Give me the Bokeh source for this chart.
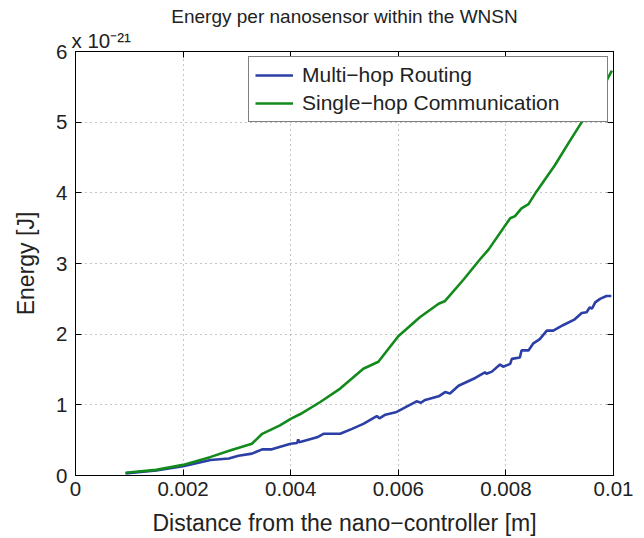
from bokeh.plotting import figure
from bokeh.models import (LinearAxis, FixedTicker, Legend, LegendItem, Title,
                          CustomJSTickFormatter, Range1d)
from bokeh.embed import file_html
from bokeh.resources import INLINE

# Distance from the nano-controller [m] and energy [x 1e-21 J]
multi_hop_x = [0.00093, 0.0015, 0.002, 0.00251, 0.00285, 0.00303, 0.00328, 0.00347,
               0.00365, 0.00387, 0.0040, 0.00412, 0.00414, 0.00416, 0.00449, 0.00461,
               0.00492, 0.00514, 0.00535, 0.0056, 0.00565, 0.00576, 0.00597, 0.00634,
               0.00642, 0.0065, 0.00675, 0.00687, 0.00696, 0.00712, 0.00743, 0.00761,
               0.00764, 0.00774, 0.00789, 0.00795, 0.00808, 0.00811, 0.00826, 0.00829,
               0.00842, 0.00851, 0.00863, 0.00876, 0.00888, 0.00907, 0.00928, 0.00941,
               0.0095, 0.00956, 0.0096, 0.00966, 0.00975, 0.00987, 0.00996]
multi_hop_y = [0.03, 0.07, 0.13, 0.22, 0.24, 0.28, 0.31, 0.37, 0.37, 0.42,
               0.45, 0.46, 0.51, 0.47, 0.54, 0.59, 0.59, 0.66, 0.73, 0.84,
               0.81, 0.86, 0.90, 1.05, 1.03, 1.07, 1.12, 1.18, 1.16, 1.27,
               1.38, 1.46, 1.44, 1.47, 1.57, 1.54, 1.58, 1.65, 1.67, 1.77,
               1.77, 1.87, 1.93, 2.05, 2.05, 2.13, 2.21, 2.30, 2.31, 2.38,
               2.36, 2.45, 2.50, 2.54, 2.54]

single_hop_x = [0.00093, 0.0015, 0.002, 0.0025, 0.0029, 0.00328, 0.00347, 0.0038,
                0.0040, 0.00418, 0.00455, 0.00492, 0.00535, 0.00563, 0.0060, 0.0064,
                0.00675, 0.00687, 0.00721, 0.00752, 0.00768, 0.00808, 0.00817, 0.00829,
                0.00842, 0.00857, 0.00891, 0.00916, 0.00941, 0.0097, 0.0099, 0.00997]
single_hop_y = [0.04, 0.08, 0.15, 0.26, 0.36, 0.45, 0.59, 0.71,
                0.80, 0.87, 1.04, 1.23, 1.51, 1.61, 1.97, 2.24,
                2.43, 2.47, 2.77, 3.06, 3.2, 3.64, 3.67, 3.78,
                3.84, 4.02, 4.39, 4.70, 5.0, 5.33, 5.63, 5.73]

x_ticks = [0, 0.002, 0.004, 0.006, 0.008, 0.01]
x_tick_labels = ["0", "0.002", "0.004", "0.006", "0.008", "0.01"]
y_ticks = [0, 1, 2, 3, 4, 5, 6]

FONT = "Liberation Sans"
TEXT = "#222222"
BLUE = "#2b3fa6"
GREEN = "#128a1c"

p = figure(width=644, height=538, output_backend="svg", toolbar_location=None,
           x_range=Range1d(0, 0.01), y_range=Range1d(0, 6),
           min_border_left=75, min_border_right=31, min_border_top=51, min_border_bottom=61)
p.background_fill_color = "white"
p.border_fill_color = "white"
p.outline_line_color = "black"
p.outline_line_width = 1

# Bottom / left axes with ticks pointing inward
for ax, ticks in ((p.xaxis[0], x_ticks), (p.yaxis[0], y_ticks)):
    ax.ticker = FixedTicker(ticks=ticks)
    ax.major_tick_in = 6
    ax.major_tick_out = 0
    ax.minor_tick_line_color = None
    ax.axis_line_color = "black"
    ax.major_tick_line_color = "black"
    ax.major_label_text_font = FONT
    ax.major_label_text_font_size = "20.5px"
    ax.major_label_text_color = TEXT
    ax.axis_label_text_font = FONT
    ax.axis_label_text_font_size = "23px"
    ax.axis_label_text_font_style = "normal"
    ax.axis_label_text_color = TEXT

p.xaxis[0].major_label_overrides = {t: s for t, s in zip(x_ticks, x_tick_labels)}
p.xaxis[0].major_label_standoff = 6
p.xaxis[0].axis_label = "Distance from the nano\u2212controller [m]"
p.xaxis[0].axis_label_standoff = 11
p.yaxis[0].major_label_standoff = 8
p.yaxis[0].axis_label = "Energy [J]"
p.yaxis[0].axis_label_standoff = 14

# Mirror axes on top and right (ticks only)
blank = CustomJSTickFormatter(code="return ''")
top = LinearAxis(ticker=FixedTicker(ticks=x_ticks), formatter=blank,
                 major_tick_in=6, major_tick_out=0, minor_tick_line_color=None,
                 major_label_standoff=0, major_label_text_font_size="1px")
right = LinearAxis(ticker=FixedTicker(ticks=y_ticks), formatter=blank,
                   major_tick_in=6, major_tick_out=0, minor_tick_line_color=None,
                   major_label_standoff=0, major_label_text_font_size="1px")
p.add_layout(top, "above")
p.add_layout(right, "right")

# Dotted grid
p.xgrid.ticker = FixedTicker(ticks=x_ticks[1:-1])
p.ygrid.ticker = FixedTicker(ticks=y_ticks[1:-1])
for g in (p.xgrid[0], p.ygrid[0]):
    g.grid_line_color = "#8c8c8c"
    g.grid_line_dash = "1 4"
    g.grid_line_width = 1

r_multi = p.line(multi_hop_x, multi_hop_y, line_color=BLUE, line_width=2.6)
r_single = p.line(single_hop_x, single_hop_y, line_color=GREEN, line_width=2.6)

legend = Legend(items=[LegendItem(label="Multi\u2212hop Routing", renderers=[r_multi]),
                       LegendItem(label="Single\u2212hop Communication", renderers=[r_single])],
                location="top_right", margin=5, padding=6, spacing=4,
                label_height=24, label_width=299, glyph_width=38, glyph_height=24,
                label_standoff=9, label_text_font=FONT, label_text_font_size="21px",
                label_text_color=TEXT,
                border_line_color="black", border_line_width=1,
                background_fill_color="white", background_fill_alpha=1)
p.add_layout(legend, "center")

# Exponent marker just above the axes, then the title above it
p.add_layout(Title(text="x 10\u207b\u00b2\u00b9", align="left", offset=-4, standoff=0,
                   text_font=FONT, text_font_size="20.5px", text_font_style="normal",
                   text_color=TEXT), "above")
p.title.text = "Energy per nanosensor within the WNSN"
p.title.align = "center"
p.title.vertical_align = "bottom"
p.title.text_line_height = 1.5
p.title.text_font = FONT
p.title.text_font_size = "19px"
p.title.text_font_style = "normal"
p.title.text_color = TEXT
p.title.standoff = 0

open("out.html", "w").write(file_html(p, INLINE))
